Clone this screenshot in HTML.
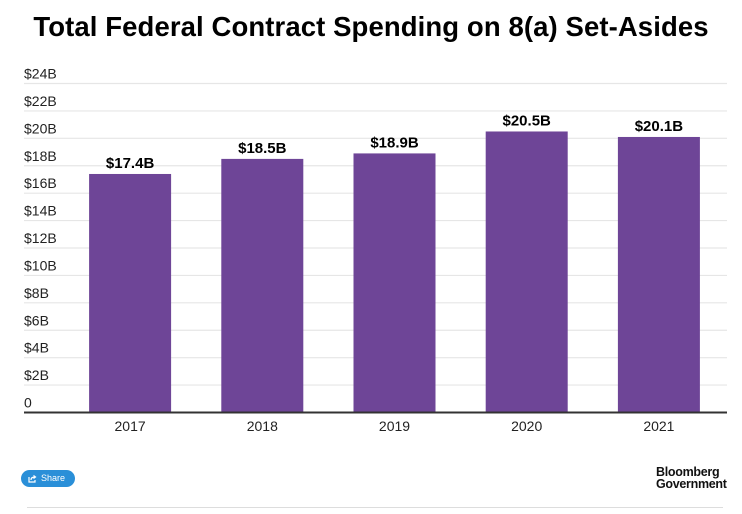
<!DOCTYPE html>
<html><head><meta charset="utf-8"><style>
body{margin:0;width:742px;height:514px;background:#fff;font-family:"Liberation Sans",sans-serif;overflow:hidden;position:relative}
#title{position:absolute;top:11px;left:0;width:742px;text-align:center;font-weight:bold;font-size:27.5px;color:#000;letter-spacing:0.1px}
#share{position:absolute;left:21px;top:470px;width:54px;height:17px;background:#2a8fd8;border-radius:9px;color:#fff;font-size:9px;line-height:17px}
#logo{position:absolute;left:656px;top:466px;font-size:12.5px;line-height:12px;font-weight:bold;color:#111;letter-spacing:-0.3px}
#rule{position:absolute;left:27px;top:507px;width:696px;height:1px;background:#ddd}
</style></head><body>
<div id="title">Total Federal Contract Spending on 8(a) Set-Asides</div>
<svg id="chart" width="742" height="460" style="position:absolute;left:0;top:0"></svg>
<div id="share"><svg width="9" height="9" style="position:absolute;left:7px;top:4px" viewBox="0 0 9 9"><path d="M1 3v5h6V6" fill="none" stroke="#fff" stroke-width="1.2"/><path d="M3 6c0-2 1-3 4-3M5.5 1.5L7.5 3 5.5 4.5" fill="none" stroke="#fff" stroke-width="1.2"/></svg><span style="position:absolute;left:20px;top:0">Share</span></div>
<div id="logo">Bloomberg<br>Government</div>
<div id="rule"></div>
<script>
const categories=["2017","2018","2019","2020","2021"];
const values=[17.4,18.5,18.9,20.5,20.1];
const valueLabels=["$17.4B","$18.5B","$18.9B","$20.5B","$20.1B"];
const ticks=[0,2,4,6,8,10,12,14,16,18,20,22,24];
const tickLabels=["0","$2B","$4B","$6B","$8B","$10B","$12B","$14B","$16B","$18B","$20B","$22B","$24B"];
const svg=document.getElementById('chart');const NS="http://www.w3.org/2000/svg";
const y0=412.5,y1=83.5,yMax=24;
const y=v=>y0-(v/yMax)*(y0-y1);
const xL=64,band=132.2,bw=82;
const x=i=>xL+band*(i+0.5);
function mk(t,a){const e=document.createElementNS(NS,t);for(const k in a)e.setAttribute(k,a[k]);svg.appendChild(e);return e;}
ticks.forEach((t,i)=>{
 if(t>0){const l=mk('line',{x1:24,x2:727,y1:y(t),y2:y(t),stroke:'#e6e6e6','stroke-width':1.2});
 
 }
 const tx=mk('text',{x:24,y:y(t)-5,'font-size':14,fill:'#222','font-family':'Liberation Sans, sans-serif'});
 tx.textContent=tickLabels[i];
 
 
});
categories.forEach((c,i)=>{
 const r=mk('rect',{x:x(i)-bw/2,y:y(values[i]),width:bw,height:y0-y(values[i]),fill:'#6e4597'});
 
 
 const v=mk('text',{x:x(i),y:y(values[i])-6,'text-anchor':'middle','font-size':15,'font-weight':'bold',fill:'#000','font-family':'Liberation Sans, sans-serif'});
 v.textContent=valueLabels[i];
 
 
 const xl=mk('text',{x:x(i),y:431,'text-anchor':'middle','font-size':14,fill:'#222','font-family':'Liberation Sans, sans-serif'});
 xl.textContent=c;
 
 
});
const ax=mk('line',{x1:24,x2:727,y1:y0,y2:y0,stroke:'#333','stroke-width':2});


</script>
</body></html>
